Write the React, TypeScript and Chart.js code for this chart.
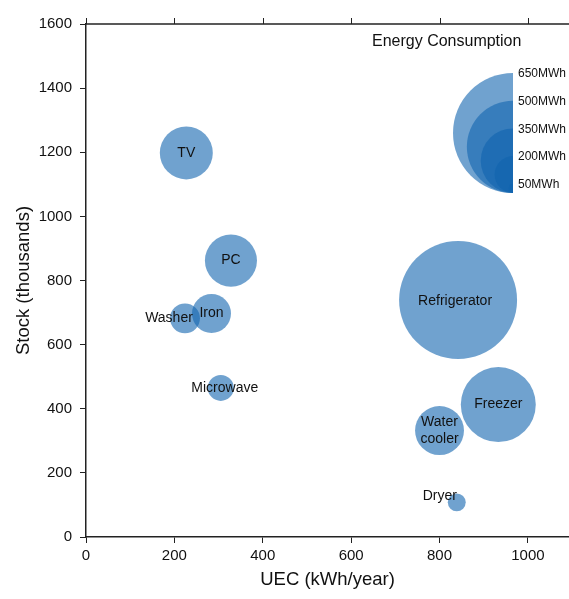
import React, { useEffect, useRef } from "react";
import { Chart, registerables } from "chart.js";

Chart.register(...registerables);

const categories = ["TV", "PC", "Iron", "Washer", "Microwave", "Refrigerator", "Freezer", "Water cooler", "Dryer"];
const uec = [227, 328, 284, 224, 305, 842, 933, 800, 839];
const stock = [1198, 862, 697, 682, 465, 739, 413, 332, 108];
const energyMWh = [287, 282, 211, 162, 141, 639, 406, 265, 97];
const xTicks = [0, 200, 400, 600, 800, 1000];
const yTicks = [0, 200, 400, 600, 800, 1000, 1200, 1400, 1600];
const legendValues = [650, 500, 350, 200, 50];
const legendLabels = ["650MWh", "500MWh", "350MWh", "200MWh", "50MWh"];

const FONT = "'Liberation Sans', Arial, Helvetica, sans-serif";
const FILL = "rgba(16, 100, 175, 0.6)";
const PX_PER_MWH = 60 / 650;
const labelOffsets: Record<string, [number, number]> = {
  Washer: [-16, 0],
  Dryer: [-17, -6],
  Microwave: [4, 0],
  Refrigerator: [-3, 1],
};

const labelPlugin = {
  id: "bubbleLabels",
  afterDatasetsDraw(chart: any) {
    const ctx = chart.ctx;
    const meta = chart.getDatasetMeta(0);
    ctx.save();
    ctx.font = `14px ${FONT}`;
    ctx.fillStyle = "#111";
    ctx.textAlign = "center";
    ctx.textBaseline = "middle";
    meta.data.forEach((el: any, i: number) => {
      const name = categories[i];
      const off = labelOffsets[name] || [0, 0];
      if (name === "Water cooler") {
        ctx.fillText("Water", el.x + off[0], el.y - 8);
        ctx.fillText("cooler", el.x + off[0], el.y + 9);
      } else {
        ctx.fillText(name, el.x + off[0], el.y + off[1]);
      }
    });
    ctx.restore();
  },
};

const framePlugin = {
  id: "frameAndLegend",
  afterDraw(chart: any) {
    const ctx = chart.ctx;
    const area = chart.chartArea;
    const xs = chart.scales.x;
    ctx.save();
    ctx.strokeStyle = "#222";
    ctx.lineWidth = 1.5;
    ctx.beginPath();
    ctx.moveTo(area.left, area.top);
    ctx.lineTo(area.right, area.top);
    ctx.stroke();
    ctx.lineWidth = 1;
    xTicks.forEach((v) => {
      const px = Math.round(xs.getPixelForValue(v)) + 0.5;
      ctx.beginPath();
      ctx.moveTo(px, area.top);
      ctx.lineTo(px, area.top - 6);
      ctx.stroke();
    });
    const cx = area.right - 56;
    const bottom = 193;
    ctx.fillStyle = "#111";
    ctx.font = `16px ${FONT}`;
    ctx.textAlign = "left";
    ctx.textBaseline = "middle";
    ctx.fillText("Energy Consumption", 372, 42);
    legendValues.forEach((v) => {
      const r = v * PX_PER_MWH;
      ctx.beginPath();
      ctx.arc(cx, bottom - r, r, Math.PI / 2, (3 * Math.PI) / 2);
      ctx.closePath();
      ctx.fillStyle = FILL;
      ctx.fill();
    });
    ctx.fillStyle = "#111";
    ctx.font = `12px ${FONT}`;
    legendValues.forEach((v, i) => {
      const r = v * PX_PER_MWH;
      ctx.fillText(legendLabels[i], cx + 5, bottom - 2 * r + 1);
    });
    ctx.restore();
  },
};

export default function App() {
  const ref = useRef<HTMLCanvasElement>(null);
  useEffect(() => {
    if (!ref.current) return;
    const chart = new Chart(ref.current, {
      type: "bubble",
      data: {
        datasets: [
          {
            label: "Energy Consumption",
            data: categories.map((_, i) => ({ x: uec[i], y: stock[i], r: energyMWh[i] * PX_PER_MWH })),
            backgroundColor: FILL,
            borderWidth: 0,
          },
        ],
      },
      options: {
        animation: false,
        responsive: false,
        devicePixelRatio: 1,
        layout: { autoPadding: false, padding: { left: 0, right: 0, top: 24, bottom: 0 } },
        plugins: { legend: { display: false }, tooltip: { enabled: false } },
        scales: {
          x: {
            type: "linear",
            min: 0,
            max: 1093,
            afterBuildTicks: (s: any) => {
              s.ticks = xTicks.map((v) => ({ value: v }));
            },
            afterFit: (s: any) => {
              s.height = 62;
            },
            grid: { drawOnChartArea: false, drawTicks: true, tickLength: 6, color: "#222" },
            border: { display: true, color: "#222", width: 1.5 },
            ticks: {
              font: { family: FONT, size: 15 },
              color: "#111",
              padding: 4,
              maxRotation: 0,
              callback: (v: any) => String(v),
            },
            title: {
              display: true,
              text: "UEC (kWh/year)",
              font: { family: FONT, size: 18.5 },
              color: "#111",
              padding: { top: 0, bottom: 8 },
            },
          },
          y: {
            type: "linear",
            min: 0,
            max: 1600,
            afterBuildTicks: (s: any) => {
              s.ticks = yTicks.map((v) => ({ value: v }));
            },
            afterFit: (s: any) => {
              s.width = 86;
            },
            grid: { drawOnChartArea: false, drawTicks: true, tickLength: 6, color: "#222" },
            border: { display: true, color: "#222", width: 1.5 },
            ticks: { font: { family: FONT, size: 15 }, color: "#111", padding: 8, callback: (v: any) => String(v) },
            title: {
              display: true,
              text: "Stock (thousands)",
              font: { family: FONT, size: 18.5 },
              color: "#111",
              padding: { top: 13, bottom: 0 },
            },
          },
        },
      },
      plugins: [labelPlugin, framePlugin],
    });
    return () => chart.destroy();
  }, []);
  return (
    <div style={{ position: "fixed", left: 0, top: 0, width: 569, height: 599, background: "#fff" }}>
      <canvas ref={ref} width={569} height={599} />
    </div>
  );
}
